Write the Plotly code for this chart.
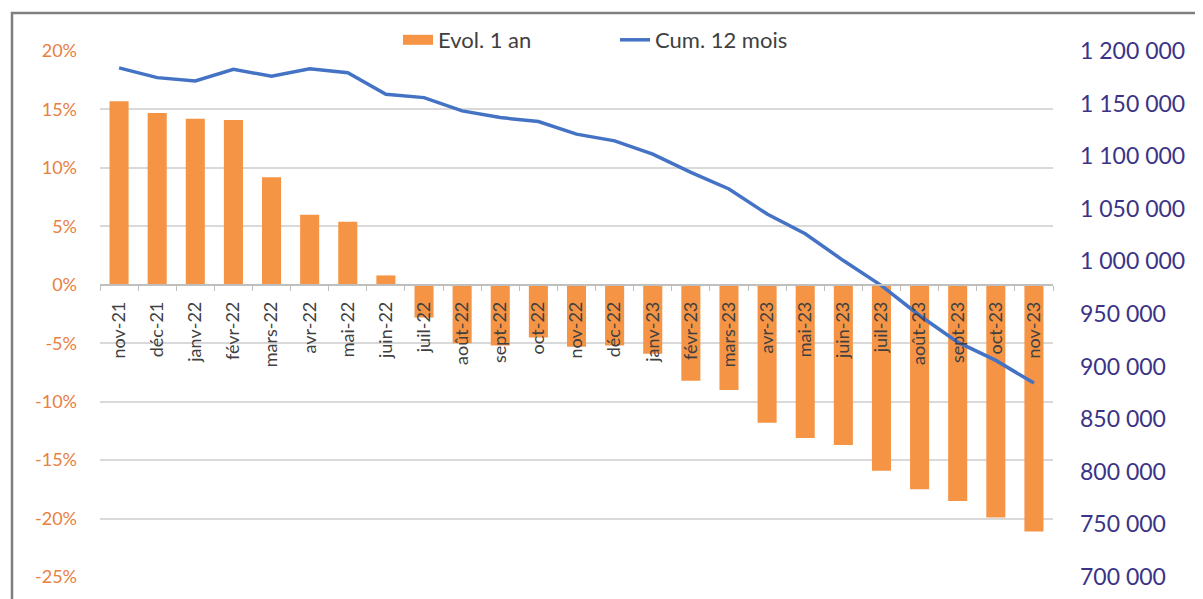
import plotly.graph_objects as go

months = ["nov-21", "déc-21", "janv-22", "févr-22", "mars-22", "avr-22", "mai-22", "juin-22",
          "juil-22", "août-22", "sept-22", "oct-22", "nov-22", "déc-22", "janv-23", "févr-23",
          "mars-23", "avr-23", "mai-23", "juin-23", "juil-23", "août-23", "sept-23", "oct-23", "nov-23"]

evol_1an = [15.7, 14.7, 14.2, 14.1, 9.2, 6.0, 5.4, 0.8,
            -2.8, -5.0, -5.2, -4.5, -5.3, -5.2, -5.9, -8.2,
            -9.0, -11.8, -13.1, -13.7, -15.9, -17.5, -18.5, -19.9, -21.1]

cum_12mois = [1184000, 1174700, 1171500, 1182600, 1176000, 1183200, 1179400, 1158900,
              1155700, 1143100, 1136700, 1132900, 1121000, 1114600, 1102000, 1084600,
              1068800, 1045000, 1026300, 1000800, 977000, 948600, 923200, 905900, 884300]

pct_ticks = [20, 15, 10, 5, 0, -5, -10, -15, -20, -25]
pct_labels = ["20%", "15%", "10%", "5%", "0%", "-5%", "-10%", "-15%", "-20%", "-25%"]

FONT = "Lato"
ORANGE = "#F59445"
BLUE = "#4472C4"

fig = go.Figure()
fig.add_trace(go.Bar(x=months, y=evol_1an, name="Evol. 1 an", showlegend=False,
                     marker=dict(color=ORANGE, line=dict(width=0))))
# legend entry for the bars (wide rectangle as in the original)
fig.add_trace(go.Scatter(x=[None], y=[None], name="Evol. 1 an", mode="lines",
                         line=dict(color=ORANGE, width=10), hoverinfo="skip"))
fig.add_trace(go.Scatter(x=months, y=cum_12mois, name="Cum. 12 mois", yaxis="y2",
                         mode="lines", line=dict(color=BLUE, width=3.5)))

fig.update_layout(
    width=1203, height=599,
    margin=dict(l=92, r=158, t=42, b=30),
    paper_bgcolor="white", plot_bgcolor="white",
    separators=", ",
    font=dict(family=FONT, color="#404040"),
    bargap=0.5,
    showlegend=True,
    legend=dict(orientation="h", x=(398 - 100) / 953, xanchor="left",
                y=(577 - 40) / 527, yanchor="middle",
                font=dict(size=22, color="#404040"), bgcolor="rgba(0,0,0,0)",
                entrywidth=172, traceorder="normal"),
    xaxis=dict(type="category", anchor="free", position=25 / 45,
               showline=True, linecolor="#BFBFBF", linewidth=1.5,
               ticks="outside", tickson="boundaries", ticklen=5, tickcolor="#BFBFBF",
               tickangle=-90, tickfont=dict(size=18, color="#404040", family=FONT),
               ticklabelstandoff=9,
               showgrid=False, zeroline=False, range=[-0.5, 24.5]),
    yaxis=dict(range=[-25, 20], tickmode="array", tickvals=pct_ticks, ticktext=pct_labels,
               tickfont=dict(size=18, color="#E8803F", family=FONT),
               showgrid=True, gridcolor="#D9D9D9", gridwidth=1.5, zeroline=False,
               ticklabelstandoff=22, showline=False),
    yaxis2=dict(range=[700000, 1200000], dtick=50000, tickformat=",d",
                overlaying="y", side="right", showgrid=False, zeroline=False,
                tickfont=dict(size=23, color="#3B3486", family=FONT),
                ticklabelstandoff=26, showline=False),
    shapes=[dict(type="rect", xref="paper", yref="paper",
                 x0=-88 / 953, x1=1100 / 953, y0=-0.2, y1=(577 - 12) / 527,
                 line=dict(color="#7F7F7F", width=2.5), fillcolor="rgba(0,0,0,0)", layer="below")],
)

fig.write_html("out.html")
